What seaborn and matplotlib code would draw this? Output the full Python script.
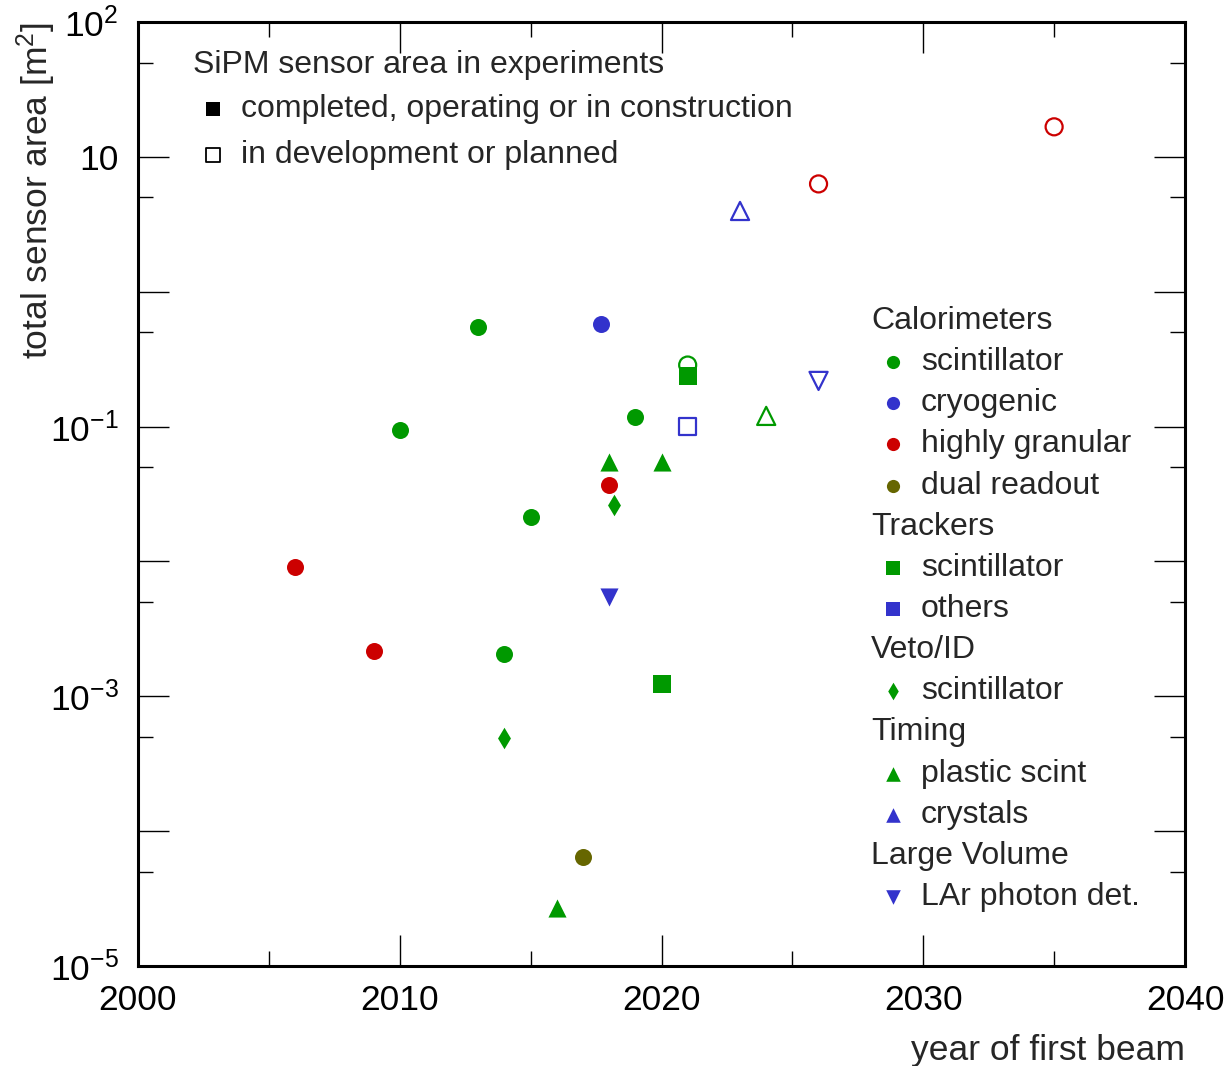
import numpy as np
import pandas as pd
import matplotlib
matplotlib.use("Agg")
import matplotlib.pyplot as plt
import seaborn as sns
from matplotlib.ticker import FixedLocator, FixedFormatter, NullFormatter

sns.set_theme(style="ticks")
plt.rcParams['font.family'] = ['Liberation Sans', 'DejaVu Sans']
plt.rcParams['mathtext.fontset'] = 'custom'
plt.rcParams['mathtext.rm'] = 'Liberation Sans'
plt.rcParams['mathtext.it'] = 'Liberation Sans:italic'

# ---------------- data ----------------
cal_scint_year = [2010, 2013, 2015, 2014, 2019]
cal_scint_area = [0.094, 0.55, 0.0214, 0.00207, 0.118]
cal_scint_open_year = [2021]
cal_scint_open_area = [0.286]

cal_cryo_year = [2017.7]
cal_cryo_area = [0.577]

cal_gran_year = [2006, 2009, 2018]
cal_gran_area = [0.0091, 0.00217, 0.037]
cal_gran_open_year = [2026, 2035]
cal_gran_open_area = [6.3, 16.7]

cal_dual_year = [2017]
cal_dual_area = [6.4e-5]

trk_scint_year = [2021, 2020]
trk_scint_area = [0.238, 0.00124]
trk_other_open_year = [2021]
trk_other_open_area = [0.1]

veto_year = [2018.2, 2014]
veto_area = [0.0263, 0.00049]

tim_plastic_year = [2018, 2020, 2016]
tim_plastic_area = [0.0547, 0.055, 2.7e-5]
tim_plastic_open_year = [2024]
tim_plastic_open_area = [0.12]
tim_crystal_open_year = [2023]
tim_crystal_open_area = [3.97]

lar_year = [2018]
lar_area = [0.00547]
lar_open_year = [2026]
lar_open_area = [0.218]

GREEN = '#009900'
BLUE = '#3333cc'
RED = '#cc0000'
OLIVE = '#666600'

series = [
    (cal_scint_year, cal_scint_area, 'o', GREEN, True),
    (cal_scint_open_year, cal_scint_open_area, 'o', GREEN, False),
    (cal_cryo_year, cal_cryo_area, 'o', BLUE, True),
    (cal_gran_year, cal_gran_area, 'o', RED, True),
    (cal_gran_open_year, cal_gran_open_area, 'o', RED, False),
    (cal_dual_year, cal_dual_area, 'o', OLIVE, True),
    (trk_scint_year, trk_scint_area, 's', GREEN, True),
    (trk_other_open_year, trk_other_open_area, 's', BLUE, False),
    (veto_year, veto_area, 'd', GREEN, True),
    (tim_plastic_year, tim_plastic_area, '^', GREEN, True),
    (tim_plastic_open_year, tim_plastic_open_area, '^', GREEN, False),
    (tim_crystal_open_year, tim_crystal_open_area, '^', BLUE, False),
    (lar_year, lar_area, 'v', BLUE, True),
    (lar_open_year, lar_open_area, 'v', BLUE, False),
]

sizes = {'o': 150, 's': 150, 'd': 120, '^': 170, 'v': 170}

fig = plt.figure(figsize=(12.26, 10.66), dpi=100)
ax = fig.add_axes([138/1226, 1-966/1066, (1185-138)/1226, (966-22)/1066])

for yrs, areas, mk, col, filled in series:
    df = pd.DataFrame({'year': yrs, 'area': areas})
    if filled:
        sns.scatterplot(data=df, x='year', y='area', marker=mk, color=col,
                        s=sizes[mk], linewidth=0, ax=ax, zorder=3)
    else:
        sns.scatterplot(data=df, x='year', y='area', marker=mk,
                        facecolors='none', edgecolor=col,
                        s=sizes[mk], linewidth=1.6, ax=ax, zorder=3)

ax.set_yscale('log')
ax.set_xlim(2000, 2040)
ax.set_ylim(1e-5, 1e2)

FS = 23
FS_AX = 25.5
ax.xaxis.set_major_locator(FixedLocator([2000, 2010, 2020, 2030, 2040]))
ax.xaxis.set_minor_locator(FixedLocator([2005, 2015, 2025, 2035]))
ax.set_xticklabels(['2000', '2010', '2020', '2030', '2040'])
yt = [1e2, 1e1, 1e0, 1e-1, 1e-2, 1e-3, 1e-4, 1e-5]
ax.yaxis.set_major_locator(FixedLocator(yt))
ax.yaxis.set_major_formatter(FixedFormatter(
    [r'$10^{2}$', '10', '', r'$10^{-1}$', '', r'$10^{-3}$', '', r'$10^{-5}$']))
ax.yaxis.set_minor_locator(FixedLocator([5e1, 5e0, 5e-1, 5e-2, 5e-3, 5e-4, 5e-5]))
ax.yaxis.set_minor_formatter(NullFormatter())

ax.tick_params(which='both', direction='in', top=True, right=True,
               labelsize=FS_AX, colors='black', width=1.0)
ax.tick_params(which='major', length=22)
ax.tick_params(axis='x', which='major', pad=13)
ax.tick_params(axis='y', which='major', pad=14)
ax.tick_params(which='minor', length=11)
for sp in ax.spines.values():
    sp.set_linewidth(2.2)
    sp.set_color('black')

ax.set_xlabel('year of first beam', fontsize=FS_AX, loc='right', labelpad=12)
ax.set_ylabel(r'total sensor area [m$^{2}$]', fontsize=FS_AX, loc='top')
ax.yaxis.set_label_coords((58 - 138) / 1047, 1.0)

# ---- top-left status legend ----
T = ax.transAxes
def yfrac(py):
    return (966 - py) / 944
def xfrac(px):
    return (px - 138) / 1047

ax.text(xfrac(193), yfrac(65), 'SiPM sensor area in experiments', transform=T,
        fontsize=FS, va='center', ha='left')
ax.scatter([xfrac(213)], [yfrac(109)], transform=T, marker='s', s=110,
           color='black', linewidth=0, clip_on=False)
ax.text(xfrac(241), yfrac(109), 'completed, operating or in construction', transform=T,
        fontsize=FS, va='center', ha='left')
ax.scatter([xfrac(213)], [yfrac(155)], transform=T, marker='s', s=110,
           facecolors='none', edgecolors='black', linewidth=1.3, clip_on=False)
ax.text(xfrac(241), yfrac(155), 'in development or planned', transform=T,
        fontsize=FS, va='center', ha='left')

# ---- right category legend ----
rows = [
    ('Calorimeters', None, None),
    ('scintillator', 'o', GREEN),
    ('cryogenic', 'o', BLUE),
    ('highly granular', 'o', RED),
    ('dual readout', 'o', OLIVE),
    ('Trackers', None, None),
    ('scintillator', 's', GREEN),
    ('others', 's', BLUE),
    ('Veto/ID', None, None),
    ('scintillator', 'd', GREEN),
    ('Timing', None, None),
    ('plastic scint', '^', GREEN),
    ('crystals', '^', BLUE),
    ('Large Volume', None, None),
    ('LAr photon det.', 'v', BLUE),
]
y0, dy = 321, (897 - 321) / 14
leg_sizes = {'o': 90, 's': 90, 'd': 80, '^': 110, 'v': 110}
for i, (lab, mk, col) in enumerate(rows):
    py = y0 + i * dy
    if mk is None:
        ax.text(xfrac(871), yfrac(py), lab, transform=T, fontsize=FS,
                va='center', ha='left')
    else:
        ax.scatter([xfrac(893)], [yfrac(py)], transform=T, marker=mk,
                   s=leg_sizes[mk], color=col, linewidth=0, clip_on=False)
        ax.text(xfrac(921), yfrac(py), lab, transform=T, fontsize=FS,
                va='center', ha='left')

fig.savefig('out.png', dpi=100)
